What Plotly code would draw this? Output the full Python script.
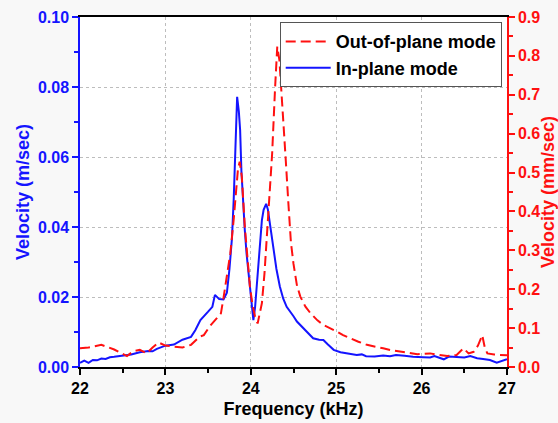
import plotly.graph_objects as go

# In-plane mode (left axis, m/sec)
freq_in = [22.00, 22.05, 22.10, 22.15, 22.20, 22.25, 22.30, 22.35, 22.40, 22.50,
           22.60, 22.70, 22.80, 22.85, 22.90, 23.00, 23.10, 23.20, 23.30, 23.35,
           23.41, 23.50, 23.55, 23.58, 23.63, 23.68, 23.72, 23.75, 23.78, 23.80,
           23.82, 23.84, 23.86, 23.875, 23.89, 23.91, 23.93, 23.95, 23.99, 24.01,
           24.03, 24.05, 24.07, 24.09, 24.11, 24.13, 24.15, 24.18, 24.20, 24.23,
           24.27, 24.30, 24.34, 24.38, 24.42, 24.46, 24.50, 24.54, 24.58, 24.62,
           24.66, 24.70, 24.73, 24.80, 24.85, 24.90, 24.97, 25.05, 25.15, 25.24,
           25.30, 25.35, 25.45, 25.55, 25.63, 25.70, 25.80, 25.90, 26.02, 26.10,
           26.15, 26.20, 26.26, 26.32, 26.40, 26.50, 26.57, 26.65, 26.72, 26.80,
           26.88, 26.95, 27.00]
vel_in = [0.0012, 0.0018, 0.0012, 0.0020, 0.0019, 0.0024, 0.0023, 0.0028, 0.0029, 0.0032,
          0.0036, 0.0042, 0.0046, 0.0045, 0.0052, 0.0061, 0.0064, 0.0078, 0.0086, 0.0105,
          0.0134, 0.0158, 0.0172, 0.0206, 0.0194, 0.0193, 0.0212, 0.0280, 0.0370, 0.0480,
          0.0610, 0.0772, 0.0730, 0.0677, 0.0560, 0.0458, 0.0390, 0.0325, 0.0230, 0.0180,
          0.0134, 0.0170, 0.0230, 0.0300, 0.0370, 0.0420, 0.0449, 0.0466, 0.0450, 0.0400,
          0.0325, 0.0280, 0.0230, 0.0195, 0.0172, 0.0160, 0.0145, 0.0130, 0.0120, 0.0110,
          0.0098, 0.0088, 0.0082, 0.0078, 0.0077, 0.0065, 0.0049, 0.0042, 0.0038, 0.0034,
          0.0036, 0.0031, 0.0030, 0.0033, 0.0031, 0.0034, 0.0032, 0.0029, 0.0028, 0.0027,
          0.0031, 0.0026, 0.0022, 0.0030, 0.0028, 0.0027, 0.0031, 0.0025, 0.0023, 0.0020,
          0.0012, 0.0018, 0.0022]

# Out-of-plane mode (right axis, mm/sec)
freq_out = [22.00, 22.10, 22.25, 22.40, 22.55, 22.62, 22.70, 22.78, 22.85, 22.92,
            23.00, 23.10, 23.20, 23.30, 23.40, 23.45, 23.52, 23.60, 23.65, 23.68,
            23.72, 23.76, 23.80, 23.82, 23.85, 23.87, 23.895, 23.93, 23.96, 23.99,
            24.02, 24.05, 24.08, 24.10, 24.13, 24.16, 24.19, 24.22, 24.25, 24.285,
            24.31, 24.335, 24.36, 24.38, 24.41, 24.44, 24.47, 24.50, 24.54, 24.58,
            24.64, 24.70, 24.78, 24.85, 24.93, 25.01, 25.08, 25.16, 25.26, 25.36,
            25.45, 25.55, 25.65, 25.75, 25.85, 25.95, 26.03, 26.10, 26.20, 26.30,
            26.41, 26.49, 26.55, 26.61, 26.66, 26.71, 26.74, 26.77, 26.85, 26.96,
            27.00]
vel_out = [0.048, 0.050, 0.057, 0.045, 0.028, 0.040, 0.044, 0.035, 0.050, 0.063,
           0.055, 0.052, 0.050, 0.057, 0.078, 0.082, 0.105, 0.125, 0.138, 0.177,
           0.230, 0.292, 0.380, 0.438, 0.510, 0.528, 0.489, 0.361, 0.280, 0.206,
           0.160, 0.129, 0.112, 0.130, 0.164, 0.240, 0.335, 0.440, 0.549, 0.721,
           0.824, 0.789, 0.710, 0.635, 0.530, 0.421, 0.320, 0.265, 0.210, 0.181,
           0.155, 0.138, 0.120, 0.108, 0.100, 0.091, 0.082, 0.074, 0.065, 0.057,
           0.052, 0.048, 0.043, 0.039, 0.036, 0.033, 0.034, 0.035, 0.031, 0.028,
           0.031, 0.048, 0.035, 0.039, 0.055, 0.082, 0.050, 0.035, 0.032, 0.031,
           0.030]

BLUE = "#1414ff"
RED = "#ff1010"
FONT = "Liberation Sans"

fig = go.Figure()
fig.add_trace(go.Scatter(x=freq_in, y=vel_in, mode="lines", name="In-plane mode",
                         line=dict(color=BLUE, width=2), yaxis="y"))
fig.add_trace(go.Scatter(x=freq_out, y=vel_out, mode="lines", name="Out-of-plane mode",
                         line=dict(color=RED, width=2, dash="10px,5px"), yaxis="y2"))

fig.update_layout(
    width=558, height=423,
    margin=dict(l=80, r=51, t=17, b=56),
    paper_bgcolor="#f8f8f8",
    plot_bgcolor="white",
    font=dict(family=FONT, size=16, color="black"),
    showlegend=True,
    legend=dict(
        x=0.9876, y=0.985, xanchor="right", yanchor="top",
        bgcolor="white", bordercolor="#555555", borderwidth=1,
        traceorder="reversed",
        font=dict(family=FONT, size=18, color="black", weight="bold"),
        tracegroupgap=0, itemwidth=45,
    ),
    xaxis=dict(
        range=[22, 27], dtick=1, tick0=22, automargin=False,
        showline=True, linecolor="black", linewidth=1.5, mirror=True,
        ticks="outside", ticklen=6, tickwidth=1.5, tickcolor="black",
        minor=dict(dtick=0.5, ticks="outside", ticklen=4, tickwidth=1.5, tickcolor="black", showgrid=False),
        showgrid=True, gridcolor="#bdbdbd", griddash="dot", gridwidth=1,
        zeroline=False,
        tickfont=dict(family=FONT, size=16, color="black", weight="bold"),
        title=dict(text="Frequency (kHz)", standoff=6,
                   font=dict(family=FONT, size=18, color="black", weight="bold")),
    ),
    yaxis=dict(
        range=[0, 0.1], dtick=0.02, tick0=0, tickformat=".2f", automargin=False,
        showline=True, linecolor=BLUE, linewidth=1.5,
        ticks="outside", ticklen=6, tickwidth=1.5, tickcolor=BLUE,
        minor=dict(dtick=0.01, ticks="outside", ticklen=4, tickwidth=1.5, tickcolor=BLUE, showgrid=False),
        showgrid=True, gridcolor="#bdbdbd", griddash="dot", gridwidth=1,
        zeroline=False,
        tickfont=dict(family=FONT, size=16, color=BLUE, weight="bold"),
        title=dict(text="Velocity (m/sec)", standoff=4,
                   font=dict(family=FONT, size=18, color=BLUE, weight="bold")),
    ),
    yaxis2=dict(
        range=[0, 0.9], dtick=0.1, tick0=0, tickformat=".1f", automargin=False,
        overlaying="y", side="right",
        showline=True, linecolor=RED, linewidth=1.5,
        ticks="outside", ticklen=6, tickwidth=1.5, tickcolor=RED,
        minor=dict(dtick=0.05, ticks="outside", ticklen=4, tickwidth=1.5, tickcolor=RED, showgrid=False),
        showgrid=False, zeroline=False,
        tickfont=dict(family=FONT, size=16, color=RED, weight="bold"),
        title=dict(text="Velocity (mm/sec)", standoff=2,
                   font=dict(family=FONT, size=18, color=RED, weight="bold")),
    ),
)

fig.write_html("out.html")
